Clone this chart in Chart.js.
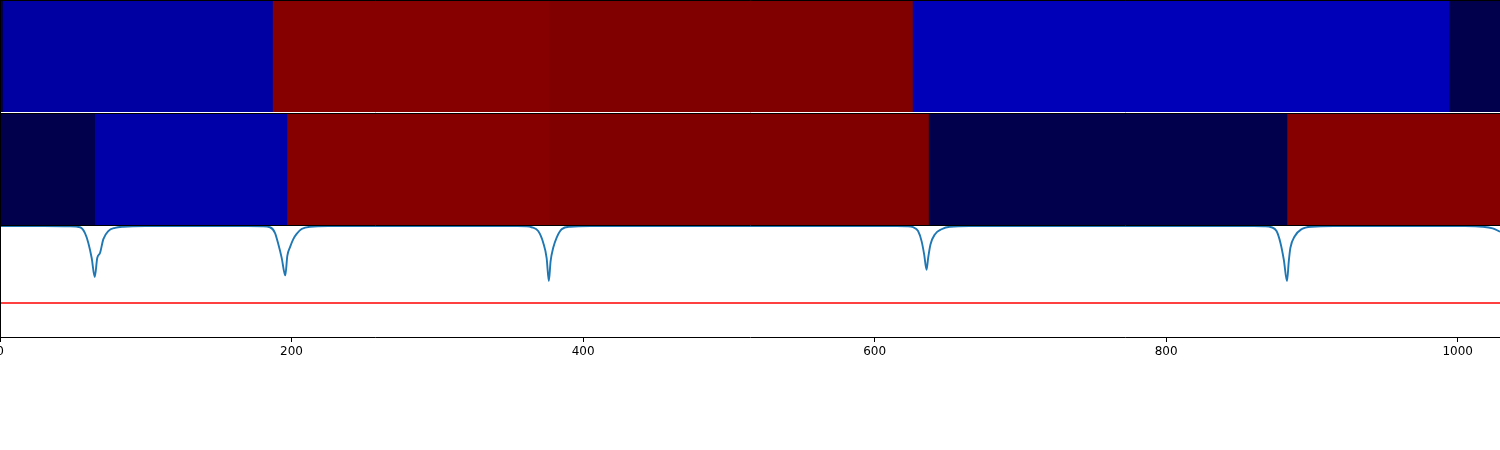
<!DOCTYPE html>
<html><head><meta charset="utf-8">
<script src="https://cdn.jsdelivr.net/npm/chart.js@4"></script>
<style>html,body{margin:0;padding:0;background:#fff;overflow:hidden}</style>
</head><body><canvas id="c" width="1500" height="450"></canvas>
<script>
// ---------- data ----------
const xMin = 0;
const xMax = 1029;
const xTicks = [0, 200, 400, 600, 800, 1000];

// top band: segment edges (x) and colormap values (-1 .. 1, seismic)
const band1Edges  = [0, 2, 187, 376.5, 626, 994, 1029];
const band1Values = [-1, -0.76, 0.97, 1.0, -0.70, -1];

// middle band
const band2Edges  = [0, 65, 197, 376.5, 637, 883, 1029];
const band2Values = [-1, -0.74, 0.97, 1.0, -1, 0.97];

// bottom line signal
const lineX = [0, 30, 48, 54.9, 58.3, 60.6, 62.9, 65, 66.7, 68.6, 70.9, 74.3, 78.9, 84.4, 100,
  170, 180, 185.2, 188.6, 190.9, 193.2, 195.7, 197.1, 198.9, 201.2, 203.5, 206.9, 212.6, 225,
  355, 361, 364.7, 369.2, 372.7, 375, 376.5, 377.7, 379.5, 381.8, 385.3, 391, 405,
  615, 622, 626.4, 629.8, 632.2, 634, 635.6, 636.7, 638.3, 641.3, 645.9, 651.6, 665,
  860, 867, 872.2, 875.7, 878.4, 880.7, 882.9, 884.1, 885.2, 888.2, 892.8, 899.6, 915,
  1005, 1017, 1024, 1029];
const lineY = [0.99, 0.99, 0.988, 0.98, 0.928, 0.84, 0.705, 0.536, 0.705, 0.75, 0.874, 0.946, 0.975, 0.985, 0.99,
  0.99, 0.988, 0.98, 0.93, 0.83, 0.709, 0.55, 0.724, 0.80, 0.874, 0.92, 0.964, 0.985, 0.99,
  0.99, 0.988, 0.98, 0.946, 0.84, 0.705, 0.50, 0.676, 0.796, 0.886, 0.962, 0.985, 0.99,
  0.99, 0.988, 0.98, 0.946, 0.856, 0.736, 0.60, 0.705, 0.826, 0.916, 0.962, 0.985, 0.99,
  0.99, 0.988, 0.98, 0.946, 0.84, 0.69, 0.50, 0.676, 0.796, 0.90, 0.962, 0.985, 0.99,
  0.99, 0.985, 0.97, 0.94];
const threshold = 0.304;

// ---------- helpers ----------
function seismic(v) {
  const t = (v + 1) / 2;
  let r, g, b;
  if (t < 0.25) { r = 0; g = 0; b = 0.3 + 0.7 * t / 0.25; }
  else if (t < 0.5) { const u = (t - 0.25) / 0.25; r = u; g = u; b = 1; }
  else if (t < 0.75) { const u = (t - 0.5) / 0.25; r = 1; g = 1 - u; b = 1 - u; }
  else { const u = (t - 0.75) / 0.25; r = 1 - 0.5 * u; g = 0; b = 0; }
  return `rgb(${Math.round(r*255)},${Math.round(g*255)},${Math.round(b*255)})`;
}

// each segment is filled from its start edge to the band end; later segments
// are drawn over earlier ones so neighbouring colours meet without white seams
function bandDatasets(edges, values, axisId) {
  const last = edges[edges.length - 1];
  return values.map((v, i) => ({
    data: [{x: edges[i], y: 1}, {x: last, y: 1}],
    yAxisID: axisId,
    backgroundColor: seismic(v),
    borderColor: 'rgba(0,0,0,0)',
    borderWidth: 0,
    pointRadius: 0,
    fill: 'start',
    tension: 0,
    order: 100 - i
  }));
}

const datasets = [
  {
    data: lineX.map((x, i) => ({x: x, y: lineY[i]})),
    yAxisID: 'yLine',
    borderColor: '#1f77b4',
    borderWidth: 1.9,
    pointRadius: 0,
    fill: false,
    cubicInterpolationMode: 'monotone',
    order: 0
  },
  {
    data: [{x: xMin, y: threshold}, {x: xMax, y: threshold}],
    yAxisID: 'yLine',
    borderColor: '#ff0000',
    borderWidth: 1.6,
    pointRadius: 0,
    fill: false,
    order: 0
  },
  ...bandDatasets(band1Edges, band1Values, 'yBand1'),
  ...bandDatasets(band2Edges, band2Values, 'yBand2')
];

function panelAxis(weight, gridColorFn, topTick) {
  return {
    type: 'linear',
    position: 'left',
    stack: 'panels',
    stackWeight: weight,
    min: 0,
    max: 1,
    offset: false,
    ticks: {display: false},
    grid: {drawTicks: false, drawOnChartArea: true, z: 1, lineWidth: 1, color: gridColorFn},
    border: {display: true, color: '#000', width: 1, z: 1},
    afterBuildTicks: s => { s.ticks = [{value: 0}, {value: topTick}]; },
    afterFit: s => { s.width = 0; }
  };
}

new Chart(document.getElementById('c'), {
  type: 'line',
  data: {datasets},
  options: {
    responsive: false,
    animation: false,
    devicePixelRatio: 1,
    events: [],
    layout: {padding: {left: 0, right: 0, top: 0, bottom: 90}},
    plugins: {legend: {display: false}, tooltip: {enabled: false}},
    scales: {
      x: {
        type: 'linear',
        position: 'bottom',
        min: xMin,
        max: xMax,
        offset: false,
        ticks: {
          font: {family: 'DejaVu Sans', size: 12},
          color: '#000',
          padding: 3,
          maxRotation: 0,
          autoSkip: false,
          callback: v => String(v)
        },
        grid: {drawOnChartArea: false, drawTicks: true, tickLength: 5, color: '#000', offset: false},
        border: {display: true, color: '#000', width: 1, z: 1},
        afterBuildTicks: s => { s.ticks = xTicks.map(v => ({value: v})); },
        afterFit: s => { s.height = 23; s.paddingLeft = 0; s.paddingRight = 0; }
      },
      yLine: panelAxis(112, () => 'rgba(0,0,0,0)', 1),
      yBand2: panelAxis(113, () => '#000', 1 - 1 / 113),
      yBand1: panelAxis(112, c => c.tick.value === 1 ? '#000' : '#fff', 1)
    }
  }
});
</script>
</body></html>
